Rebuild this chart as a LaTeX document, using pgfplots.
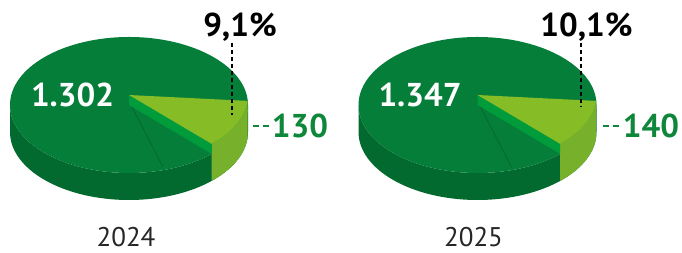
\documentclass[border=0pt]{standalone}
\usepackage{pgfplots}
\pgfplotsset{compat=1.18}
\usepackage{fontspec}
\setmainfont{PT Sans}
\definecolor{pietop}{HTML}{057E3A}
\definecolor{pieside}{HTML}{036A2F}
\definecolor{wedgetop}{HTML}{86BC26}
\definecolor{wedgeside}{HTML}{77B12B}
\definecolor{wedgecut}{HTML}{009B3A}
\definecolor{lblgreen}{HTML}{0F873A}
\definecolor{yeartxt}{HTML}{262626}
% values
\def\mainA{1302}\def\smallA{130}
\def\mainB{1347}\def\smallB{140}
\newcommand{\drawpie}[1]{%
  % #1 = centre x
  \fill[pieside] (axis cs:#1-119,148) arc[start angle=180,end angle=360,x radius=119pt,y radius=68pt]
     -- (axis cs:#1+119,121) arc[start angle=360,end angle=180,x radius=119pt,y radius=68pt] -- cycle;
  \fill[pietop] (axis cs:#1,148) ellipse[x radius=119pt,y radius=68pt];
  \draw[pietop!75!black,line width=0.5pt] (axis cs:#1+3,146) -- (axis cs:#1+34,86);
  % wedge outer side
  \fill[wedgeside] (axis cs:#1+118.5,152.1) arc[start angle=-5,end angle=-46,x radius=119pt,y radius=68pt]
     -- (axis cs:#1+82.7,72.1) arc[start angle=-46,end angle=-5,x radius=119pt,y radius=68pt] -- cycle;
  % wedge cut face
  \fill[wedgecut] (axis cs:#1,158) -- (axis cs:#1+82.7,109.1) -- (axis cs:#1+82.7,99.1) -- (axis cs:#1,148) -- cycle;
  % wedge top
  \fill[wedgetop] (axis cs:#1,158) -- (axis cs:#1+118.5,152.1) arc[start angle=-5,end angle=-46,x radius=119pt,y radius=68pt] -- cycle;
}
\begin{document}
\begin{tikzpicture}
\begin{axis}[
  width=682pt, height=253pt, scale only axis,
  xmin=0, xmax=682, ymin=0, ymax=253,
  hide axis, clip=false,
]
\path (axis cs:0,0) rectangle (axis cs:682,253);
\drawpie{129}
\drawpie{477.5}
% dashed leaders
\draw[black,line width=2pt,dash pattern=on 4pt off 3pt] (axis cs:232,210) -- (axis cs:232,138);
\draw[black,line width=2pt,dash pattern=on 4pt off 3pt] (axis cs:581,210) -- (axis cs:581,146);
\draw[lblgreen,line width=2pt,dash pattern=on 6pt off 4pt] (axis cs:253,127) -- (axis cs:270,127);
\draw[lblgreen,line width=2pt,dash pattern=on 6pt off 4pt] (axis cs:603,127) -- (axis cs:620,127);
% labels
\node[anchor=base,white,font=\bfseries\fontsize{33}{36}\selectfont,inner sep=0pt] at (axis cs:72.5,146) {1.302};
\node[anchor=base,white,font=\bfseries\fontsize{33}{36}\selectfont,inner sep=0pt] at (axis cs:420,146) {1.347};
\node[anchor=base,black,font=\bfseries\fontsize{33}{36}\selectfont,inner sep=0pt] at (axis cs:240,216) {9,1\%};
\node[anchor=base,black,font=\bfseries\fontsize{33}{36}\selectfont,inner sep=0pt] at (axis cs:586.5,216) {10,1\%};
\node[anchor=base,lblgreen,font=\bfseries\fontsize{33}{36}\selectfont,inner sep=0pt] at (axis cs:300,115) {130};
\node[anchor=base,lblgreen,font=\bfseries\fontsize{33}{36}\selectfont,inner sep=0pt] at (axis cs:651,115) {140};
\node[anchor=base,yeartxt,font=\fontsize{27}{30}\selectfont,inner sep=0pt] at (axis cs:126,6.5) {2024};
\node[anchor=base,yeartxt,font=\fontsize{27}{30}\selectfont,inner sep=0pt] at (axis cs:473.5,6.5) {2025};
\end{axis}
\end{tikzpicture}
\end{document}
